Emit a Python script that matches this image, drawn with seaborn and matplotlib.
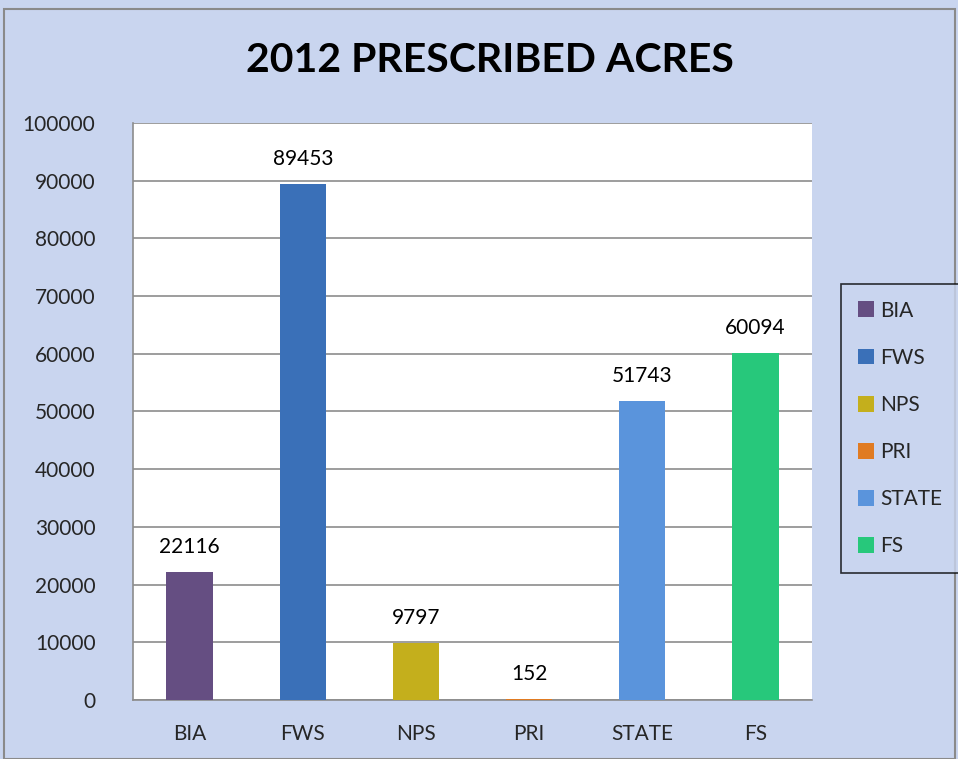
import matplotlib
matplotlib.use("Agg")
import matplotlib.pyplot as plt
import matplotlib.patches as mpatches
import seaborn as sns
import pandas as pd

categories = ["BIA", "FWS", "NPS", "PRI", "STATE", "FS"]
acres = [22116, 89453, 9797, 152, 51743, 60094]
colors = ["#654E82", "#3A70B8", "#C4AF1C", "#E07B22", "#5A94DC", "#27C87B"]
yticks = list(range(0, 100001, 10000))

sns.set_theme(style="white")
plt.rcParams["font.family"] = ["Lato", "DejaVu Sans"]

df = pd.DataFrame({"agency": categories, "acres": acres})

fig = plt.figure(figsize=(9.58, 7.59), dpi=100)
fig.patch.set_facecolor("#C9D5EF")
fig.patches.append(mpatches.Rectangle((4 / 958, 0), 951 / 958, 750 / 759, transform=fig.transFigure,
                                      fill=False, edgecolor="#8A8A8A", linewidth=1.5))

ax = fig.add_axes([133 / 958, 59 / 759, 679 / 958, 577 / 759])
ax.set_facecolor("white")
sns.barplot(data=df, x="agency", y="acres", hue="agency", palette=colors,
            order=categories, hue_order=categories, width=0.41, dodge=False,
            saturation=1, legend=False, ax=ax, edgecolor="none", linewidth=0)
for cont in ax.containers:
    for p in cont:
        p.set_zorder(3)
    ax.bar_label(cont, fmt="%d", padding=11, fontsize=15, color="black")

ax.set_ylim(0, 100000)
ax.set_yticks(yticks)
ax.set_yticklabels([str(t) for t in yticks], fontsize=15)
ax.tick_params(axis="x", labelsize=15, pad=17, length=0)
ax.tick_params(axis="y", pad=27, length=0)
ax.yaxis.grid(True, color="#8C8C8C", linewidth=1.2, zorder=0)
ax.set_axisbelow(True)
for s in ["top", "right"]:
    ax.spines[s].set_visible(False)
for s in ["left", "bottom"]:
    ax.spines[s].set_color("#8C8C8C")
    ax.spines[s].set_linewidth(1.2)
ax.set_xlabel("")
ax.set_ylabel("")

fig.text(490 / 958, 1 - 61 / 759, "2012 PRESCRIBED ACRES", ha="center", va="center",
         fontsize=29.5, fontweight="bold", color="black")

handles = [mpatches.Patch(facecolor=c, edgecolor="none") for c in colors]
leg = fig.legend(handles, categories, loc="upper left",
                 bbox_to_anchor=(841 / 958, 1 - 284 / 759), bbox_transform=fig.transFigure,
                 fontsize=15, frameon=True, fancybox=False, labelspacing=1.3,
                 handlelength=0.8, handleheight=0.8, handletextpad=0.3, borderpad=0.8,
                 borderaxespad=0)
leg.get_frame().set_edgecolor("black")
leg.get_frame().set_linewidth(1.2)
leg.get_frame().set_facecolor("#C9D5EF")

fig.savefig("out.png", dpi=100, facecolor=fig.get_facecolor())
